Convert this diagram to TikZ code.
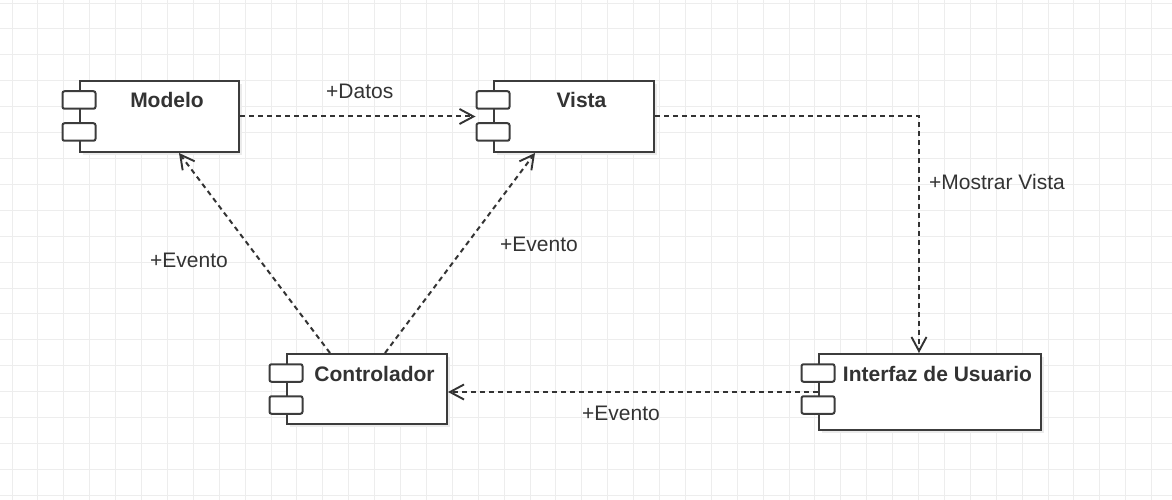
\documentclass[tikz,border=0pt]{standalone}
\usepackage{fontspec}
\setmainfont{Liberation Sans}
\usetikzlibrary{arrows.meta,calc}
\definecolor{gridline}{HTML}{EDEDED}
\definecolor{ink}{HTML}{333333}
\definecolor{boxline}{HTML}{3C3C3C}
\tikzset{
  comp/.style={draw=boxline, line width=2, fill=white, rectangle, inner sep=0, anchor=north west},
  compshadow/.style={fill=black!8},
  port/.style={draw=boxline, line width=2, fill=white, rounded corners=2,
    minimum width=33, minimum height=17.5, inner sep=0},
  title/.style={font=\fontsize{21}{24}\selectfont\bfseries, text=ink, anchor=base, inner sep=0},
  lbl/.style={font=\fontsize{21}{24}\selectfont, text=ink, anchor=base west, inner sep=0},
  dep/.style={draw=ink, line width=2, dash pattern=on 5 off 4,
    -{Straight Barb[length=14,width=15,line width=1.9]}}
}
% UML component: #1 name, #2 x, #3 y (top left), #4 width, #5 height, #6 title
\newcommand\umlcomp[6]{%
  \fill[compshadow] (#2+4,#3+4) rectangle ++(#4,#5);
  \node[comp, minimum width=#4, minimum height=#5] (#1) at (#2,#3) {};
  \node[port] (#1-p1) at ($(#1.north west)+(0,20)$) {};
  \node[port] (#1-p2) at ($(#1.north west)+(0,52)$) {};
  \node[title] (#1-t) at ($(#1.north west)+(#4/2+8.5,28)$) {#6};
}
\begin{document}
\begin{tikzpicture}[x=1pt, y=-1pt]
  \useasboundingbox (0,0) rectangle (1172,500);
  \fill[white] (0,0) rectangle (1172,500);
  % background grid
  \foreach \i in {0,...,44} \draw[gridline, line width=1] (12+25.9*\i,0) -- (12+25.9*\i,500);
  \foreach \j in {0,...,19} \draw[gridline, line width=1] (0,3.1+25.9*\j) -- (1172,3.1+25.9*\j);

  % components
  \umlcomp{modelo}{79}{80}{159}{71}{Modelo}
  \umlcomp{vista}{493}{80}{160}{71}{Vista}
  \umlcomp{ctrl}{286}{353}{160}{70}{Controlador}
  \umlcomp{ui}{818}{353}{222}{76}{Interfaz de Usuario}

  % dependencies
  \draw[dep] (modelo.east) -- (vista-p1.west |- vista.west);
  \draw[dep] ($(ctrl.north west)+(44,0)$) -- ($(modelo.south west)+(100,0)$);
  \draw[dep] ($(ctrl.north west)+(99,0)$) -- ($(vista.south west)+(42,0)$);
  \draw[dep] (vista.east) -| ($(ui.north west)+(101,0)$);
  \draw[dep] (ui.west) -- (ui.west -| ctrl.east);

  % dependency labels
  \node[lbl] (l-datos) at (326,98.5) {+Datos};
  \node[lbl] (l-ev1) at (150,267) {+Evento};
  \node[lbl] (l-ev2) at (500,251) {+Evento};
  \node[lbl] (l-mv) at (929,189) {+Mostrar Vista};
  \node[lbl] (l-ev3) at (582,420) {+Evento};
\end{tikzpicture}
\end{document}
